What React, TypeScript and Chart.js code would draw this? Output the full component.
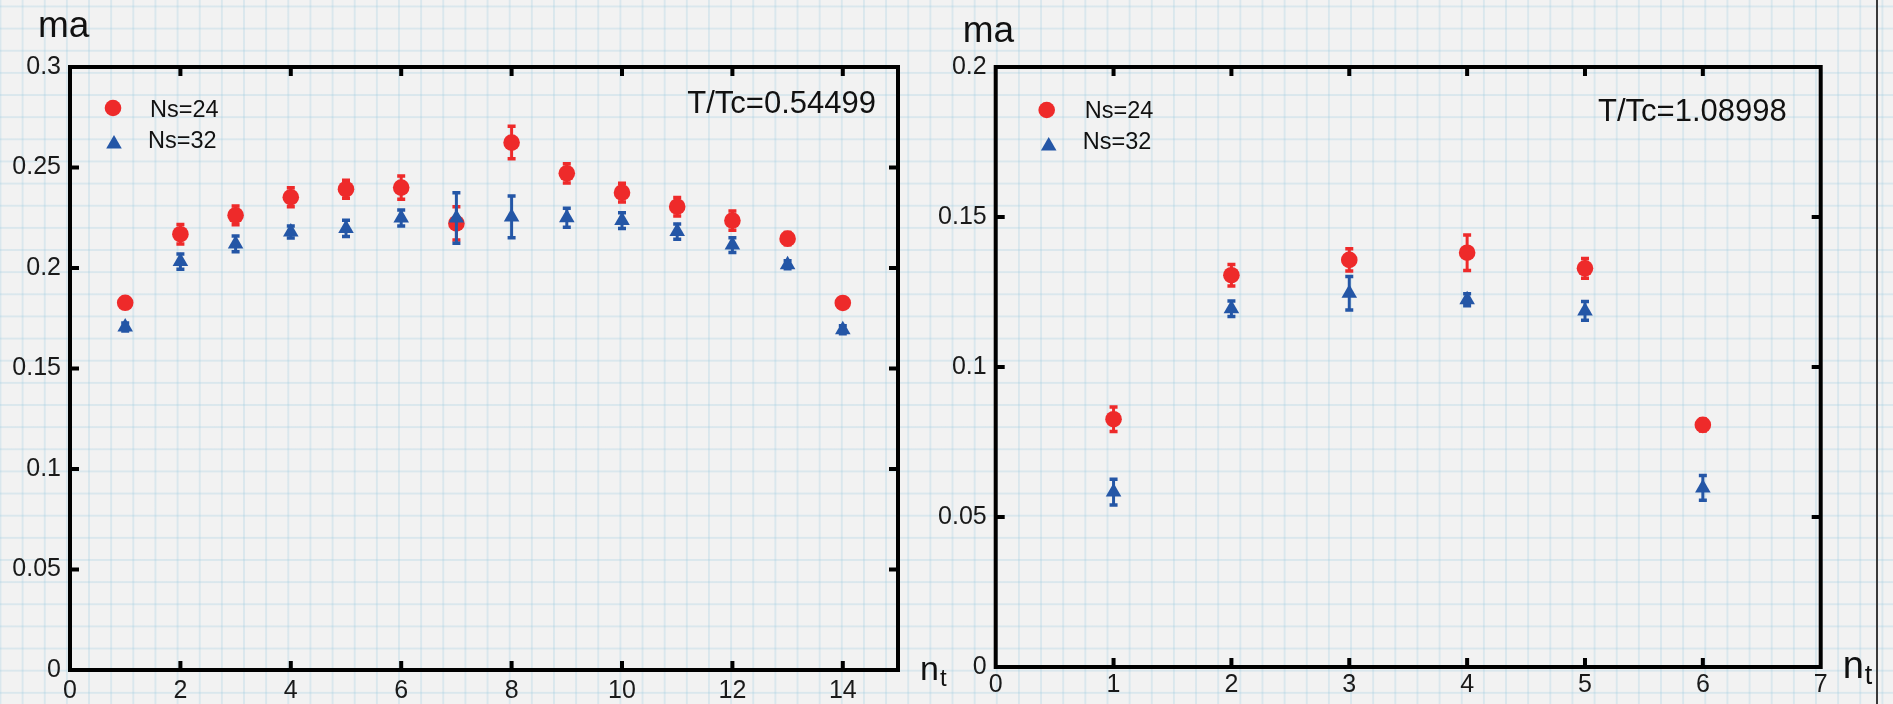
import React, { useEffect, useRef } from 'react';
import { Chart, registerables } from 'chart.js';

Chart.register(...registerables);

const FONT = '"Liberation Sans", Arial, Helvetica, sans-serif';
const RED = '#ee2a2a';
const BLUE = '#2456a6';

// ---------- data: left panel (T/Tc = 0.54499) ----------
const leftNt = [1, 2, 3, 4, 5, 6, 7, 8, 9, 10, 11, 12, 13, 14];
const leftNs24 = [0.1827, 0.2168, 0.2262, 0.2352, 0.2392, 0.24, 0.2222, 0.2624, 0.2471, 0.2375, 0.2305, 0.2236, 0.2146, 0.1826];
const leftNs24Err = [0.002, 0.0048, 0.0047, 0.0047, 0.0045, 0.0058, 0.0083, 0.0081, 0.0048, 0.0047, 0.0046, 0.0048, 0.003, 0.002];
const leftNs32 = [0.1706, 0.2032, 0.212, 0.2179, 0.2197, 0.2249, 0.2249, 0.2254, 0.225, 0.2236, 0.2181, 0.2114, 0.2016, 0.1693];
const leftNs32Err = [0.002, 0.0038, 0.0039, 0.003, 0.004, 0.004, 0.0126, 0.0104, 0.0047, 0.0039, 0.0038, 0.0037, 0.002, 0.002];

// ---------- data: right panel (T/Tc = 1.08998) ----------
const rightNt = [1, 2, 3, 4, 5, 6];
const rightNs24 = [0.0826, 0.1306, 0.1357, 0.1381, 0.1329, 0.0807];
const rightNs24Err = [0.0041, 0.0036, 0.0037, 0.0059, 0.0033, 0.002];
const rightNs32 = [0.0583, 0.1194, 0.1246, 0.1224, 0.1187, 0.0597];
const rightNs32Err = [0.0043, 0.0026, 0.0056, 0.002, 0.0031, 0.0041];

const seriesLabels = ['Ns=24', 'Ns=32'];
const leftAnnotation = 'T/Tc=0.54499';
const rightAnnotation = 'T/Tc=1.08998';
const yTitle = 'ma';
const xTitleMain = 'n';
const xTitleSub = 't';

const fmt = (v: any) => String(+Number(v).toFixed(4));

const errorBarPlugin = {
  id: 'errorBars',
  beforeDatasetDraw(chart: any, args: any) {
    const ds = chart.data.datasets[args.index];
    const errs = ds.errors;
    if (!errs) return;
    const meta = chart.getDatasetMeta(args.index);
    const ys = chart.scales.y;
    const ctx = chart.ctx;
    ctx.save();
    ctx.strokeStyle = ds.backgroundColor;
    meta.data.forEach((pt: any, i: number) => {
      const v = ds.data[i].y;
      const e = errs[i];
      const x = pt.x;
      const top = ys.getPixelForValue(v + e);
      const bot = ys.getPixelForValue(v - e);
      ctx.lineWidth = 3;
      ctx.beginPath();
      ctx.moveTo(x, top);
      ctx.lineTo(x, bot);
      ctx.stroke();
      ctx.lineWidth = 3.5;
      ctx.beginPath();
      ctx.moveTo(x - 4, top);
      ctx.lineTo(x + 4, top);
      ctx.moveTo(x - 4, bot);
      ctx.lineTo(x + 4, bot);
      ctx.stroke();
    });
    ctx.restore();
  },
};

const framePlugin = {
  id: 'frame',
  afterDraw(chart: any) {
    const { ctx, chartArea: a, scales } = chart;
    const x = scales.x;
    const y = scales.y;
    ctx.save();
    ctx.strokeStyle = '#000';
    ctx.lineWidth = 4;
    ctx.strokeRect(a.left, a.top, a.right - a.left, a.bottom - a.top);
    const L = 9;
    ctx.beginPath();
    x.ticks.forEach((t: any) => {
      if (t.value <= x.min || t.value >= x.max) return;
      const px = x.getPixelForValue(t.value);
      ctx.moveTo(px, a.bottom);
      ctx.lineTo(px, a.bottom - L);
      ctx.moveTo(px, a.top);
      ctx.lineTo(px, a.top + L);
    });
    y.ticks.forEach((t: any) => {
      if (t.value <= y.min || t.value >= y.max - 1e-9) return;
      const py = y.getPixelForValue(t.value);
      ctx.moveTo(a.left, py);
      ctx.lineTo(a.left + L, py);
      ctx.moveTo(a.right, py);
      ctx.lineTo(a.right - L, py);
    });
    ctx.stroke();
    ctx.restore();
  },
};

const labelsPlugin = {
  id: 'paperLabels',
  afterDraw(chart: any, _args: any, o: any) {
    const { ctx, chartArea: a } = chart;
    ctx.save();
    ctx.fillStyle = '#111';
    ctx.textBaseline = 'alphabetic';
    // y title
    ctx.font = `37px ${FONT}`;
    ctx.textAlign = 'left';
    ctx.fillText(yTitle, a.left + o.ma[0], a.top + o.ma[1]);
    // x title with subscript
    const nx = a.right + o.nt[0];
    const ny = a.bottom + o.nt[1];
    ctx.font = `${o.ntSize}px ${FONT}`;
    ctx.fillText(xTitleMain, nx, ny);
    const w = ctx.measureText(xTitleMain).width;
    ctx.font = `${Math.round(o.ntSize * 0.7)}px ${FONT}`;
    ctx.fillText(xTitleSub, nx + w + 1, ny + 6);
    // annotation
    ctx.font = `31px ${FONT}`;
    ctx.textAlign = 'right';
    ctx.fillText(o.annotation, a.right + o.ann[0], a.top + o.ann[1]);
    // legend
    ctx.textAlign = 'left';
    ctx.font = `23.5px ${FONT}`;
    const c = o.legend;
    ctx.fillStyle = RED;
    ctx.beginPath();
    ctx.arc(a.left + c.circle[0], a.top + c.circle[1], 8.3, 0, Math.PI * 2);
    ctx.fill();
    ctx.fillStyle = BLUE;
    const tx = a.left + c.tri[0];
    const ty = a.top + c.tri[1];
    const r = 9;
    ctx.beginPath();
    for (let k = 0; k < 3; k++) {
      const ang = (k * 2 * Math.PI) / 3;
      const px = tx + Math.sin(ang) * r;
      const py = ty - Math.cos(ang) * r;
      if (k === 0) ctx.moveTo(px, py);
      else ctx.lineTo(px, py);
    }
    ctx.closePath();
    ctx.fill();
    ctx.fillStyle = '#111';
    ctx.fillText(seriesLabels[0], a.left + c.t1[0], a.top + c.t1[1]);
    ctx.fillText(seriesLabels[1], a.left + c.t2[0], a.top + c.t2[1]);
    ctx.restore();
  },
};

function makeConfig(p: any): any {
  const tickFont = { family: FONT, size: 25 };
  return {
    type: 'scatter',
    data: {
      datasets: [
        {
          label: seriesLabels[0],
          data: p.nt.map((x: number, i: number) => ({ x, y: p.s24[i] })),
          errors: p.e24,
          backgroundColor: RED,
          borderWidth: 0,
          pointStyle: 'circle',
          pointRadius: 8.3,
          pointHoverRadius: 8.3,
          showLine: false,
          order: 2,
        },
        {
          label: seriesLabels[1],
          data: p.nt.map((x: number, i: number) => ({ x, y: p.s32[i] })),
          errors: p.e32,
          backgroundColor: BLUE,
          borderWidth: 0,
          pointStyle: 'triangle',
          pointRadius: 9,
          pointHoverRadius: 9,
          showLine: false,
          order: 1,
        },
      ],
    },
    options: {
      responsive: false,
      animation: false,
      events: [],
      layout: { padding: p.padding },
      plugins: {
        legend: { display: false },
        tooltip: { enabled: false },
        paperLabels: p.labels,
      },
      scales: {
        x: {
          type: 'linear',
          min: 0,
          max: p.xMax,
          afterFit: (s: any) => {
            s.height = p.xH;
          },
          ticks: { stepSize: p.xStep, includeBounds: false, font: tickFont, color: '#1a1a1a', padding: p.xPad, maxRotation: 0, callback: fmt },
          grid: { display: false, drawTicks: false },
          border: { display: false },
        },
        y: {
          type: 'linear',
          min: 0,
          max: p.yMax,
          afterFit: (s: any) => {
            s.width = p.yW;
          },
          ticks: { stepSize: 0.05, font: tickFont, color: '#1a1a1a', padding: p.yPad, callback: fmt },
          grid: { display: false, drawTicks: false },
          border: { display: false },
        },
      },
    },
    plugins: [errorBarPlugin, framePlugin, labelsPlugin],
  };
}

export default function App() {
  const leftRef = useRef<HTMLCanvasElement>(null);
  const rightRef = useRef<HTMLCanvasElement>(null);

  useEffect(() => {
    const c1 = new Chart(
      leftRef.current as HTMLCanvasElement,
      makeConfig({
        nt: leftNt,
        s24: leftNs24,
        e24: leftNs24Err,
        s32: leftNs32,
        e32: leftNs32Err,
        xMax: 15,
        xStep: 2,
        yMax: 0.3,
        padding: { left: 0, top: 67, right: 57, bottom: 0 },
        xH: 34,
        yW: 70,
        xPad: 6,
        yPad: 9,
        labels: {
          ma: [-32, -30],
          nt: [22, 10],
          ntSize: 34,
          ann: [-22, 46],
          annotation: leftAnnotation,
          legend: { circle: [43, 41], tri: [44, 77], t1: [80, 50], t2: [78, 81] },
        },
      })
    );
    const c2 = new Chart(
      rightRef.current as HTMLCanvasElement,
      makeConfig({
        nt: rightNt,
        s24: rightNs24,
        e24: rightNs24Err,
        s32: rightNs32,
        e32: rightNs32Err,
        xMax: 7,
        xStep: 1,
        yMax: 0.2,
        padding: { left: 0, top: 67, right: 72.3, bottom: 0 },
        xH: 37,
        yW: 65.7,
        xPad: 3,
        yPad: 9,
        labels: {
          ma: [-33, -25],
          nt: [22, 11],
          ntSize: 38,
          ann: [-34, 54],
          annotation: rightAnnotation,
          legend: { circle: [51, 43], tri: [53, 79], t1: [89, 51], t2: [87, 82] },
        },
      })
    );
    return () => {
      c1.destroy();
      c2.destroy();
    };
  }, []);

  return (
    <div
      style={{
        position: 'fixed',
        left: 0,
        top: 0,
        width: 1893,
        height: 704,
        overflow: 'hidden',
        backgroundColor: '#f2f2f2',
        backgroundImage:
          'linear-gradient(to right, rgba(150,200,222,0.26) 1.6px, transparent 1.6px), linear-gradient(to bottom, rgba(150,200,222,0.26) 1.6px, transparent 1.6px)',
        backgroundSize: '22.15px 22.15px',
        backgroundPosition: '-0.5px 5.5px',
      }}
    >
      <canvas ref={leftRef} width={955} height={704} style={{ position: 'absolute', left: 0, top: 0, width: 955, height: 704 }} />
      <canvas ref={rightRef} width={963} height={704} style={{ position: 'absolute', left: 930, top: 0, width: 963, height: 704 }} />
      <div style={{ position: 'absolute', left: 1876, top: 0, width: 2, height: 704, background: '#3a3a3a' }} />
    </div>
  );
}
